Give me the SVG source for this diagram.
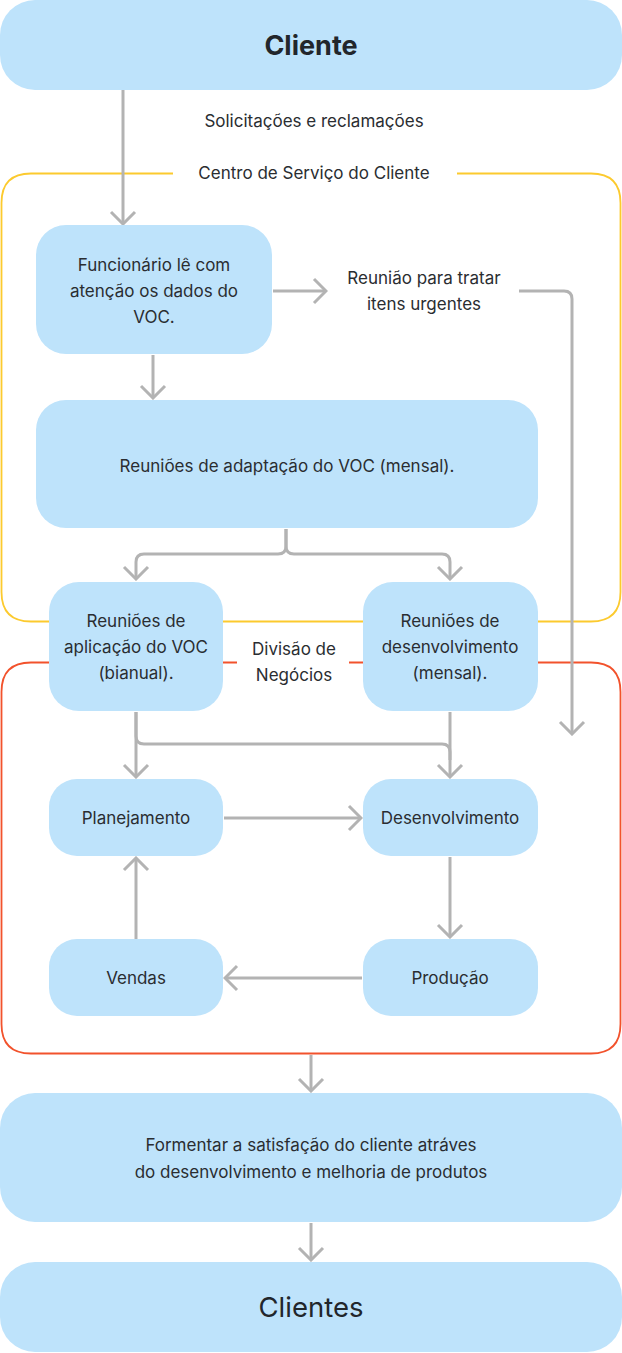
<svg xmlns="http://www.w3.org/2000/svg" width="622" height="1353" viewBox="0 0 622 1353">
<defs>
<style>
.box{fill:#bee3fb;}
.t{font-family:Inter,"Noto Sans","Liberation Sans",sans-serif;font-size:17px;fill:#2a2d31;text-anchor:middle;}
.big{font-family:Inter,"Noto Sans","Liberation Sans",sans-serif;fill:#22262b;text-anchor:middle;}
.c{fill:none;stroke:#b3b3b3;stroke-width:3;marker-end:url(#ah);}
.cn{fill:none;stroke:#b3b3b3;stroke-width:3;}
</style>
<marker id="ah" viewBox="-14 -14 16 28" markerWidth="16" markerHeight="28" refX="0" refY="0" orient="auto" markerUnits="userSpaceOnUse">
<path d="M-12,-12 L0,0 L-12,12" fill="none" stroke="#b3b3b3" stroke-width="3"/>
</marker>
</defs>
<rect width="622" height="1353" fill="#ffffff"/>

<g id="frame-csc">
<path d="M173,173.5 H31 Q1.5,173.5 1.5,203 V592 Q1.5,621.5 31,621.5 H591 Q620.5,621.5 620.5,592 V203 Q620.5,173.5 591,173.5 H457" fill="none" stroke="#fcca2e" stroke-width="1.8"/>
<text class="t" x="314" y="179">Centro de Serviço do Cliente</text>
</g>
<g id="frame-div">
<path d="M237,662.5 H31 Q1.5,662.5 1.5,692 V1024 Q1.5,1053.5 31,1053.5 H591 Q620.5,1053.5 620.5,1024 V692 Q620.5,662.5 591,662.5 H349" fill="none" stroke="#f2522c" stroke-width="1.8"/>
<text class="t" x="294" y="655">Divisão de</text>
<text class="t" x="294" y="681">Negócios</text>
</g>

<g id="connectors">
<path class="c" d="M123,86 V224"/>
<path class="c" d="M273,291 H326"/>
<path class="c" d="M519,291 H564 Q572,291 572,299 V734"/>
<path class="c" d="M153,355 V398"/>
<path class="c" d="M286,529 V546 Q286,554 278,554 H144 Q136,554 136,562 V579"/>
<path class="c" d="M286,529 V546 Q286,554 294,554 H442 Q450,554 450,562 V579"/>
<path class="c" d="M136,712 V777"/>
<path class="cn" d="M136,712 V736 Q136,744 144,744 H442 Q450,744 450,752 V760"/>
<path class="c" d="M450,712 V777"/>
<path class="c" d="M224,818 H361"/>
<path class="c" d="M450,857 V937"/>
<path class="c" d="M362,978 H225"/>
<path class="c" d="M136,939 V858"/>
<path class="c" d="M311,1055 V1091"/>
<path class="c" d="M311,1223 V1260"/>
<text class="t" x="314" y="127">Solicitações e reclamações</text>
<text class="t" x="424" y="284">Reunião para tratar</text>
<text class="t" x="424" y="310">itens urgentes</text>
</g>

<g id="cliente">
<rect class="box" x="0" y="0" width="622" height="90" rx="35"/>
<text class="big" x="311" y="55" font-size="27" font-weight="700">Cliente</text>
</g>
<g id="funcionario">
<rect class="box" x="36" y="225" width="236" height="129" rx="30"/>
<text class="t" x="154" y="271">Funcionário lê com</text>
<text class="t" x="154" y="297">atenção os dados do</text>
<text class="t" x="154" y="323">VOC.</text>
</g>
<g id="adaptacao">
<rect class="box" x="36" y="400" width="502" height="128" rx="30"/>
<text class="t" x="287" y="472">Reuniões de adaptação do VOC (mensal).</text>
</g>
<g id="aplicacao">
<rect class="box" x="49" y="582" width="174" height="129" rx="30"/>
<text class="t" x="136" y="627">Reuniões de</text>
<text class="t" x="136" y="653">aplicação do VOC</text>
<text class="t" x="136" y="679">(bianual).</text>
</g>
<g id="desenv-reunioes">
<rect class="box" x="363" y="582" width="175" height="129" rx="30"/>
<text class="t" x="450" y="627">Reuniões de</text>
<text class="t" x="450" y="653">desenvolvimento</text>
<text class="t" x="450" y="679">(mensal).</text>
</g>
<g id="planejamento">
<rect class="box" x="49" y="779" width="174" height="77" rx="28"/>
<text class="t" x="136" y="824">Planejamento</text>
</g>
<g id="desenvolvimento">
<rect class="box" x="363" y="779" width="175" height="77" rx="28"/>
<text class="t" x="450" y="824">Desenvolvimento</text>
</g>
<g id="vendas">
<rect class="box" x="49" y="939" width="174" height="77" rx="28"/>
<text class="t" x="136" y="984">Vendas</text>
</g>
<g id="producao">
<rect class="box" x="363" y="939" width="175" height="77" rx="28"/>
<text class="t" x="450" y="984">Produção</text>
</g>
<g id="formentar">
<rect class="box" x="0" y="1093" width="622" height="129" rx="35"/>
<text class="t" x="311" y="1151">Formentar a satisfação do cliente atráves</text>
<text class="t" x="311" y="1178">do desenvolvimento e melhoria de produtos</text>
</g>
<g id="clientes">
<rect class="box" x="0" y="1262" width="622" height="90" rx="35"/>
<text class="big" x="311" y="1317" font-size="27.5">Clientes</text>
</g>
</svg>
